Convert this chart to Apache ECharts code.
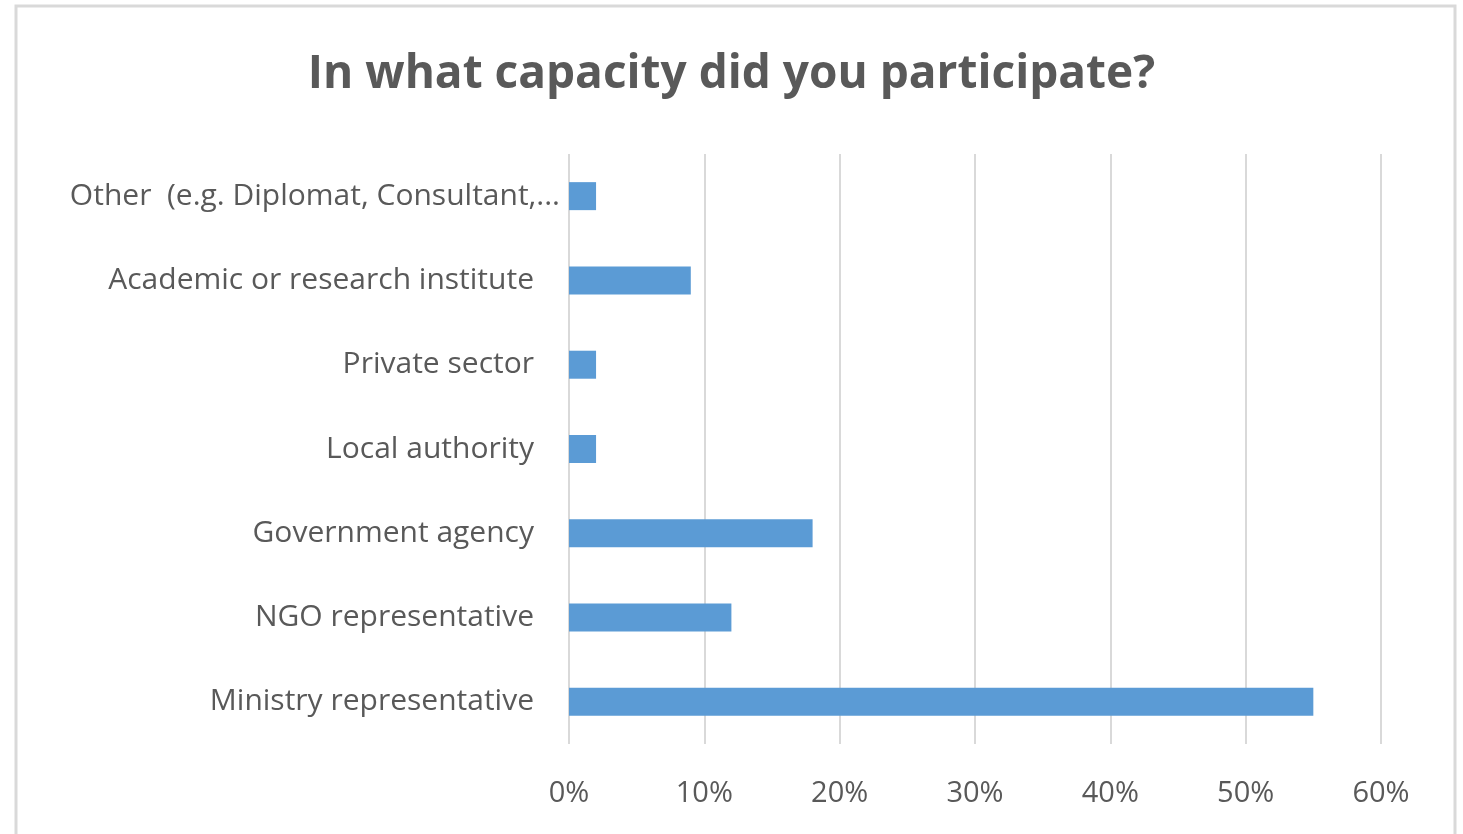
<!DOCTYPE html>
<html>
<head>
<meta charset="utf-8">
<script src="https://cdn.jsdelivr.net/npm/echarts@6/dist/echarts.min.js"></script>
<style>
html,body{margin:0;padding:0;background:#fff;}
#c{width:1463px;height:834px;}
</style>
</head>
<body>
<div id="c"></div>
<script>
const titleText = 'In what capacity did you participate?';
const categories = [
  'Ministry representative',
  'NGO representative',
  'Government agency',
  'Local authority',
  'Private sector',
  'Academic or research institute',
  'Other  (e.g. Diplomat, Consultant,...'
];
const values = [55, 12, 18, 2, 2, 9, 2];
const tickLabels = ['0%', '10%', '20%', '30%', '40%', '50%', '60%'];

const chart = echarts.init(document.getElementById('c'));
const font = "Open Sans, Liberation Sans, sans-serif";
chart.setOption({
  animation: false,
  graphic: [{
    type: 'rect',
    shape: {x: 16, y: 6, width: 1439, height: 840},
    style: {fill: 'none', stroke: '#d9d9d9', lineWidth: 3},
    z: -1
  }],
  title: {
    text: titleText,
    left: 'center',
    top: 47,
    textStyle: {fontFamily: font, fontWeight: 'bold', fontSize: 46, color: '#595959'}
  },
  grid: {left: 569, right: 82, top: 154, bottom: 90, containLabel: false},
  xAxis: {
    type: 'value',
    min: 0, max: 60, interval: 10,
    axisLine: {show: false},
    axisTick: {show: false},
    splitLine: {lineStyle: {color: '#d9d9d9', width: 2}},
    axisLabel: {
      margin: 35,
      fontFamily: font, fontSize: 29, color: '#595959',
      formatter: function (v) { return tickLabels[Math.round(v / 10)]; }
    }
  },
  yAxis: {
    type: 'category',
    data: categories,
    axisLine: {show: false},
    axisTick: {show: false},
    axisLabel: {
      margin: 9,
      fontFamily: font, fontSize: 30, color: '#595959',
      formatter: function (v, i) {
        return i === categories.length - 1 ? v : '{p|' + v + '}';
      },
      rich: {p: {fontFamily: font, fontSize: 30, color: '#595959', padding: [0, 26, 0, 0]}}
    }
  },
  series: [{
    type: 'bar',
    data: values,
    barWidth: 28,
    itemStyle: {color: '#5B9BD5'}
  }]
});
</script>
</body>
</html>
